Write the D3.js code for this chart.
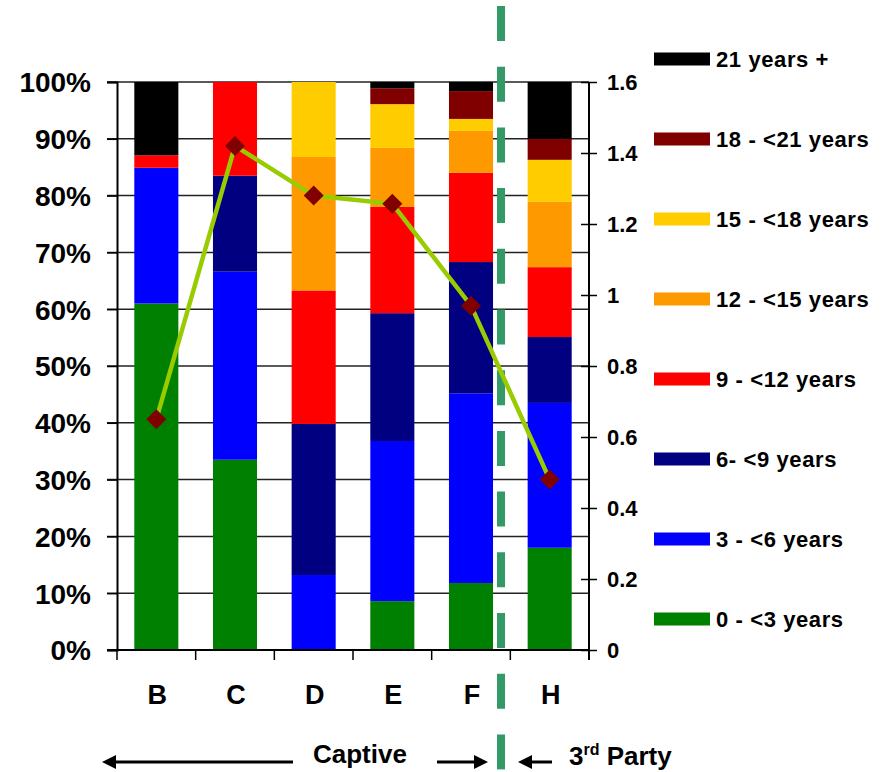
<!DOCTYPE html>
<html>
<head>
<meta charset="utf-8">
<script src="https://cdn.jsdelivr.net/npm/d3@7/dist/d3.min.js"></script>
<style>
  html, body { margin: 0; padding: 0; background: #fff; }
  svg { display: block; font-family: "Liberation Sans", Arial, sans-serif; font-weight: bold; }
</style>
</head>
<body>
<svg id="chart" width="885" height="772"></svg>
<script>
// Fleet age profile per operator (share of fleet, %), stacked bottom to top
const categories = ["B", "C", "D", "E", "F", "H"];
const seriesNames = ["0 - <3 years", "3 - <6 years", "6- <9 years", "9 - <12 years",
                     "12 - <15 years", "15 - <18 years", "18 - <21 years", "21 years +"];
const age0to3   = [61.0, 33.5, 0.0,  8.6, 11.8, 18.0];
const age3to6   = [23.9, 33.1, 13.2, 28.2, 33.4, 25.5];
const age6to9   = [0.0,  16.9, 26.6, 22.5, 23.1, 11.6];
const age9to12  = [2.2,  16.5, 23.5, 18.7, 15.7, 12.3];
const age12to15 = [0.0,  0.0,  23.5, 10.4, 7.4,  11.5];
const age15to18 = [0.0,  0.0,  13.2, 7.7,  2.1,  7.4];
const age18to21 = [0.0,  0.0,  0.0,  2.8,  4.9,  3.7];
const age21plus = [12.9, 0.0,  0.0,  1.1,  1.6,  10.0];
const seriesColors = ["#008000", "#0000FF", "#000080", "#FF0000",
                      "#FF9900", "#FFCC00", "#800000", "#000000"];
// Line series on the secondary axis
const lineValues = [0.65, 1.42, 1.28, 1.257, 0.97, 0.48];
const leftTicks = [0, 0.1, 0.2, 0.3, 0.4, 0.5, 0.6, 0.7, 0.8, 0.9, 1.0];
const rightTicks = [0, 0.2, 0.4, 0.6, 0.8, 1.0, 1.2, 1.4, 1.6];

const seriesValues = [age0to3, age3to6, age6to9, age9to12, age12to15, age15to18, age18to21, age21plus];

const svg = d3.select("#chart");
const plot = { left: 117, right: 589, top: 82, bottom: 650 };

const x = d3.scaleBand().domain(categories)
  .range([plot.left, plot.right]).paddingInner(0.44).paddingOuter(0.22);
const yPct = d3.scaleLinear().domain([0, 1]).range([plot.bottom, plot.top]);
const yRight = d3.scaleLinear().domain([0, 1.6]).range([plot.bottom, plot.top]);

// Gridlines behind the bars
svg.append("g").selectAll("line").data(leftTicks).join("line")
  .attr("x1", plot.left - 10).attr("x2", plot.right)
  .attr("y1", d => yPct(d)).attr("y2", d => yPct(d))
  .attr("stroke", "#222").attr("stroke-width", 1.5);

// Stacked bars
const rows = categories.map((c, i) => {
  const r = { cat: c };
  seriesNames.forEach((s, j) => r[s] = seriesValues[j][i] / 100);
  return r;
});
const stacked = d3.stack().keys(seriesNames)(rows);
svg.append("g").selectAll("g").data(stacked).join("g")
  .attr("fill", (d, i) => seriesColors[i])
  .selectAll("rect").data(d => d.filter(p => p[1] - p[0] > 0)).join("rect")
  .attr("x", d => x(d.data.cat))
  .attr("width", x.bandwidth())
  .attr("y", d => yPct(d[1]))
  .attr("height", d => yPct(d[0]) - yPct(d[1]));

// Left axis
const leftAxis = svg.append("g").attr("transform", `translate(${plot.left},0)`)
  .call(d3.axisLeft(yPct).tickValues(leftTicks).tickFormat(d3.format(".0%")).tickSize(10).tickPadding(16));
leftAxis.select(".domain").attr("stroke", "#000").attr("stroke-width", 2);
leftAxis.selectAll(".tick line").attr("stroke", "#000").attr("stroke-width", 1.5);
leftAxis.selectAll(".tick text").attr("font-size", 28).attr("font-weight", "bold")
  .attr("fill", "#000").attr("font-family", "Liberation Sans, Arial, sans-serif").attr("dy", "0.35em");

// Right axis
const rightAxis = svg.append("g").attr("transform", `translate(${plot.right},0)`)
  .call(d3.axisRight(yRight).tickValues(rightTicks).tickFormat(d3.format("~g")).tickSize(8).tickPadding(10));
rightAxis.select(".domain").remove();
rightAxis.append("line").attr("x1", 0).attr("x2", 0)
  .attr("y1", plot.top).attr("y2", plot.bottom + 10)
  .attr("stroke", "#000").attr("stroke-width", 2);
rightAxis.selectAll(".tick line").attr("x1", -8).attr("x2", 8)
  .attr("stroke", "#000").attr("stroke-width", 1.5);
rightAxis.selectAll(".tick text").attr("font-size", 22).attr("font-weight", "bold")
  .attr("fill", "#000").attr("font-family", "Liberation Sans, Arial, sans-serif").attr("dy", "0.35em");

// Category axis with boundary ticks
const xAxis = svg.append("g");
xAxis.append("line").attr("x1", plot.left - 10).attr("x2", plot.right)
  .attr("y1", plot.bottom).attr("y2", plot.bottom)
  .attr("stroke", "#000").attr("stroke-width", 2);
const bounds = d3.range(categories.length + 1).map(i => plot.left + i * x.step());
xAxis.selectAll(".bt").data(bounds).join("line").attr("class", "bt")
  .attr("x1", d => d).attr("x2", d => d)
  .attr("y1", plot.bottom).attr("y2", plot.bottom + 10)
  .attr("stroke", "#000").attr("stroke-width", 1.5);
xAxis.selectAll("text").data(categories).join("text")
  .attr("x", d => x(d) + x.bandwidth() / 2 + 1)
  .attr("y", 704)
  .attr("text-anchor", "middle").attr("font-size", 27).text(d => d);

// Dashed divider between captive and third-party operators
const dividerX = x("F") + x.bandwidth() + 8;
svg.append("line")
  .attr("x1", dividerX).attr("x2", dividerX).attr("y1", 6).attr("y2", 772)
  .attr("stroke", "#339966").attr("stroke-width", 8)
  .attr("stroke-dasharray", "35 25.7");

// Line series with diamond markers
const line = d3.line()
  .x((d, i) => x(categories[i]) + x.bandwidth() / 2)
  .y(d => yRight(d));
svg.append("path").datum(lineValues)
  .attr("d", line).attr("fill", "none")
  .attr("stroke", "#99CC00").attr("stroke-width", 4.5);
svg.append("g").selectAll("path").data(lineValues).join("path")
  .attr("d", d3.symbol(d3.symbolSquare, 200)())
  .attr("transform", (d, i) => `translate(${x(categories[i]) + x.bandwidth() / 2},${yRight(d)}) rotate(45)`)
  .attr("fill", "#800000");

// Legend (top to bottom: oldest first)
const legend = svg.append("g");
const legendOrder = d3.range(seriesNames.length).reverse();
legendOrder.forEach((j, k) => {
  const cy = 59 + k * 80;
  legend.append("rect").attr("x", 654).attr("y", cy - 6.5)
    .attr("width", 56).attr("height", 13).attr("fill", seriesColors[j]);
  legend.append("text").attr("x", 716).attr("y", cy + 8)
    .attr("font-size", 22).attr("letter-spacing", 0.6).text(seriesNames[j]);
});

// Captive / 3rd Party annotation
const ann = svg.append("g");
const ay = 762;
function arrow(x1, x2) {
  // x2 is the tip
  const dir = Math.sign(x2 - x1);
  const base = x2 - dir * 14;
  ann.append("line").attr("x1", x1).attr("x2", base).attr("y1", ay).attr("y2", ay)
    .attr("stroke", "#000").attr("stroke-width", 3);
  ann.append("path").attr("d", `M${x2},${ay} L${base},${ay - 7} L${base},${ay + 7} Z`).attr("fill", "#000");
}
arrow(293, 102);
arrow(437, 488);
arrow(552, 518);
ann.append("text").attr("x", 313).attr("y", 763).attr("font-size", 26).text("Captive");
const party = ann.append("text").attr("x", 569).attr("y", 765).attr("font-size", 26);
party.append("tspan").text("3");
party.append("tspan").attr("font-size", 16).attr("dy", -10).text("rd");
party.append("tspan").attr("dy", 10).text(" Party");
</script>
</body>
</html>
